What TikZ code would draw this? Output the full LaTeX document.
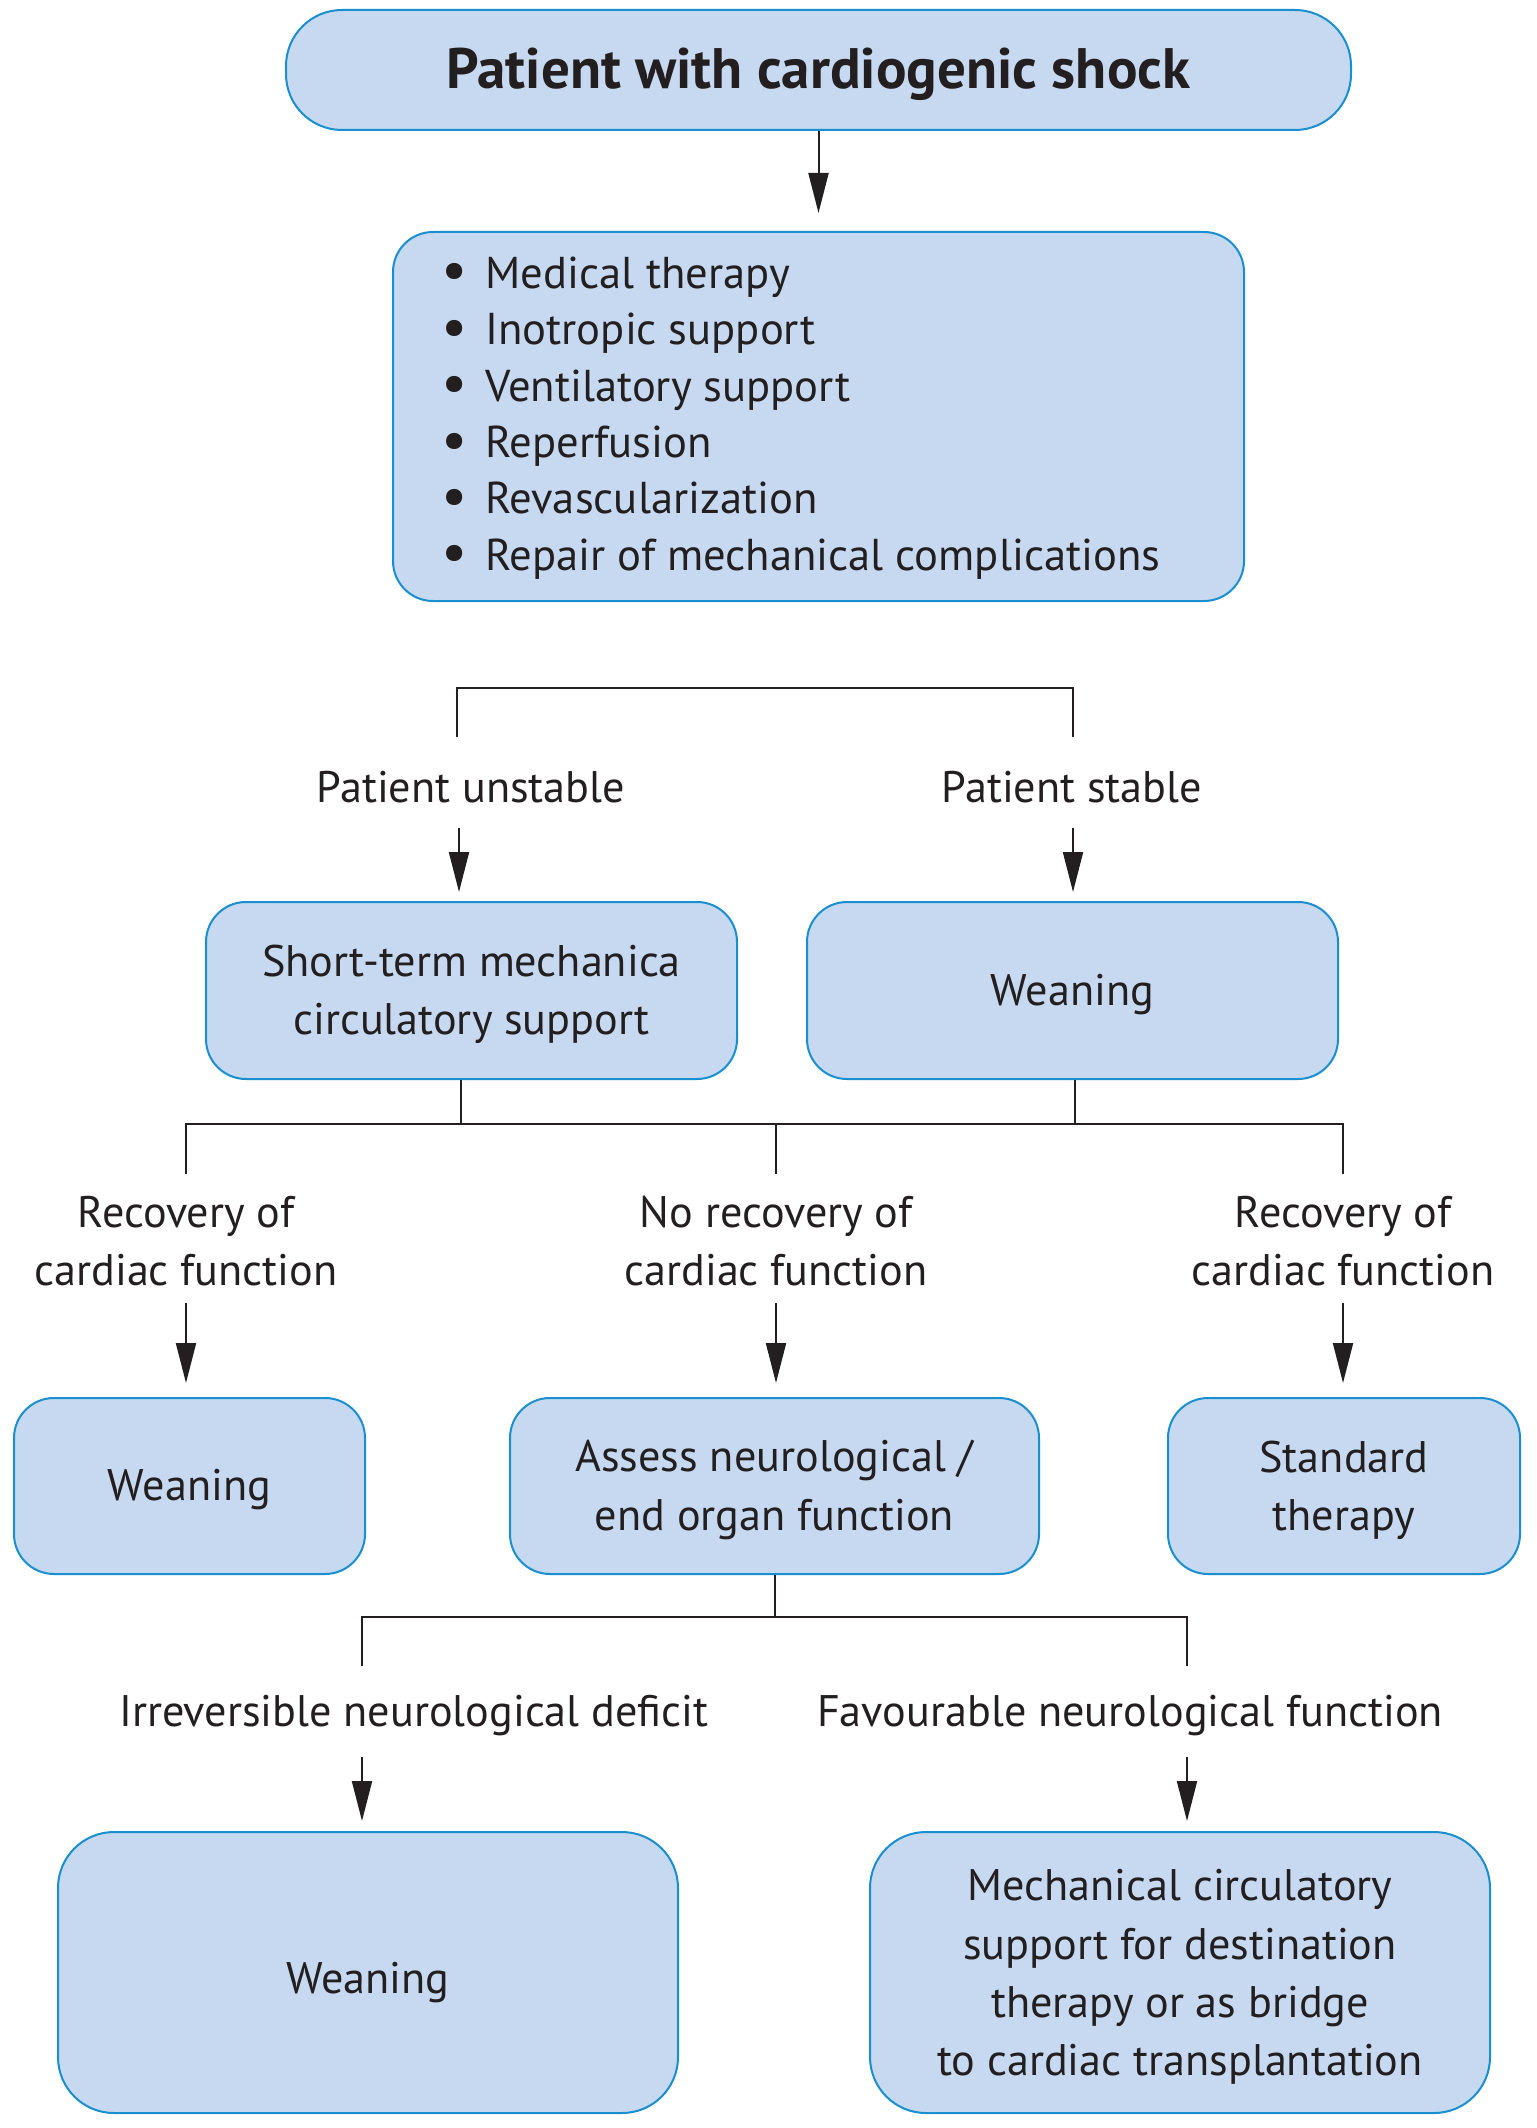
\documentclass[tikz,border=0pt]{standalone}
\usepackage{fontspec}
\setmainfont{PT Sans}
\usetikzlibrary{arrows.meta}
\definecolor{boxfill}{HTML}{C6D9F0}
\definecolor{boxline}{HTML}{1A8FD0}
\definecolor{ink}{HTML}{231F20}
\newcommand{\bul}{\makebox[22pt][l]{\raisebox{-0.8pt}{\fontsize{29}{29}\selectfont\textbullet}}}
\begin{document}
\begin{tikzpicture}[x=0.5pt,y=-0.5pt,
  box/.style={draw=boxline,fill=boxfill,line width=1pt,rounded corners=20pt,inner sep=0pt},
  lbl/.style={align=center,text=ink,inner sep=0pt,font=\fontsize{22.1}{29.2}\selectfont},
  conn/.style={draw=ink,line width=1pt},
  arr/.style={conn,-{Triangle[length=20pt,width=10pt]}}]
\useasboundingbox (0,0) rectangle (1536,2128);
% boxes
\node[box,minimum width=532.5pt,minimum height=60pt,rounded corners=28pt] (top) at (818.5,70) {};
\node[box,minimum width=425.5pt,minimum height=184.5pt] (list) at (818.5,416.5) {};
\node[box,minimum width=265.5pt,minimum height=88.5pt] (st) at (471.5,990.5) {};
\node[box,minimum width=265.5pt,minimum height=88.5pt] (w1) at (1072.5,990.5) {};
\node[box,minimum width=175.5pt,minimum height=88pt] (w2) at (189.5,1486) {};
\node[box,minimum width=264.5pt,minimum height=88pt] (as) at (774.5,1486) {};
\node[box,minimum width=176pt,minimum height=88pt] (sd) at (1344,1486) {};
\node[box,minimum width=310pt,minimum height=140.5pt,rounded corners=28pt] (w3) at (368,1972.5) {};
\node[box,minimum width=310pt,minimum height=140.5pt,rounded corners=28pt] (mcs) at (1180,1972.5) {};
% box texts
\node[lbl,font=\bfseries\fontsize{28.5}{34}\selectfont] (topT) at (818.5,74) {Patient with cardiogenic shock};
\node[lbl,align=left,anchor=west,font=\fontsize{22.3}{28.2}\selectfont] (items) at (441,418) {%
\bul Medical therapy\\
\bul Inotropic support\\
\bul Ventilatory support\\
\bul Reperfusion\\
\bul Revascularization\\
\bul Repair of mechanical complications};
\node[lbl] (stT) at (471.5,994.5) {Short-term mechanica\\circulatory support};
\node[lbl] (w1T) at (1072.5,994.5) {Weaning};
\node[lbl] (w2T) at (189.5,1490) {Weaning};
\node[lbl] (asT) at (774.5,1490) {Assess neurological /\\end organ function};
\node[lbl] (sdT) at (1344,1490) {Standard\\therapy};
\node[lbl] (w3T) at (368,1983) {Weaning};
\node[lbl] (mcsT) at (1180,1977) {Mechanical circulatory\\support for destination\\therapy or as bridge\\to cardiac transplantation};
% labels
\node[lbl] (lu) at (471,787) {Patient unstable};
\node[lbl] (ls) at (1072,787) {Patient stable};
\node[lbl] (r1) at (186,1241) {Recovery of\\cardiac function};
\node[lbl] (nr) at (776,1241) {No recovery of\\cardiac function};
\node[lbl] (r2) at (1343,1241) {Recovery of\\cardiac function};
\node[lbl] (ir) at (414,1716) {Irreversible neurological deficit};
\node[lbl] (fv) at (1130,1716) {Favourable neurological function};
% coordinates
\coordinate (b1) at (457,737);
\coordinate (b1t) at (457,688);
\coordinate (b2t) at (1073,688);
\coordinate (b2) at (1073,737);
\coordinate (a1) at (459,828);
\coordinate (a2) at (1073,828);
\coordinate (h2a) at (461,1124);
\coordinate (h2b) at (1075,1124);
\coordinate (h2L) at (186,1124);
\coordinate (h2R) at (1343,1124);
\coordinate (h2M) at (776,1124);
\coordinate (v2L) at (186,1174);
\coordinate (v2M) at (776,1174);
\coordinate (v2R) at (1343,1174);
\coordinate (c1) at (186,1303);
\coordinate (c2) at (776,1303);
\coordinate (c3) at (1343,1303);
\coordinate (h3a) at (775,1617);
\coordinate (h3L) at (362,1617);
\coordinate (h3R) at (1187,1617);
\coordinate (v3L) at (362,1666);
\coordinate (v3R) at (1187,1666);
\coordinate (d1) at (362,1757);
\coordinate (d2) at (1187,1757);
% connectors
\draw[arr,shorten >=9pt] (top.south) -- (list.north);
\draw[conn] (b1) -- (b1t) -- (b2t) -- (b2);
\draw[arr,shorten >=4.5pt] (a1) -- (a1 |- st.north);
\draw[arr,shorten >=4.5pt] (a2) -- (a2 |- w1.north);
\draw[conn] (h2a |- st.south) -- (h2a);
\draw[conn] (h2b |- w1.south) -- (h2b);
\draw[conn] (v2L) -- (h2L) -- (h2R) -- (v2R);
\draw[conn] (h2M) -- (v2M);
\draw[arr,shorten >=7pt] (c1) -- (c1 |- w2.north);
\draw[arr,shorten >=7pt] (c2) -- (c2 |- as.north);
\draw[arr,shorten >=7pt] (c3) -- (c3 |- sd.north);
\draw[conn] (h3a |- as.south) -- (h3a);
\draw[conn] (v3L) -- (h3L) -- (h3R) -- (v3R);
\draw[arr,shorten >=5pt] (d1) -- (d1 |- w3.north);
\draw[arr,shorten >=5pt] (d2) -- (d2 |- mcs.north);
\end{tikzpicture}
\end{document}
